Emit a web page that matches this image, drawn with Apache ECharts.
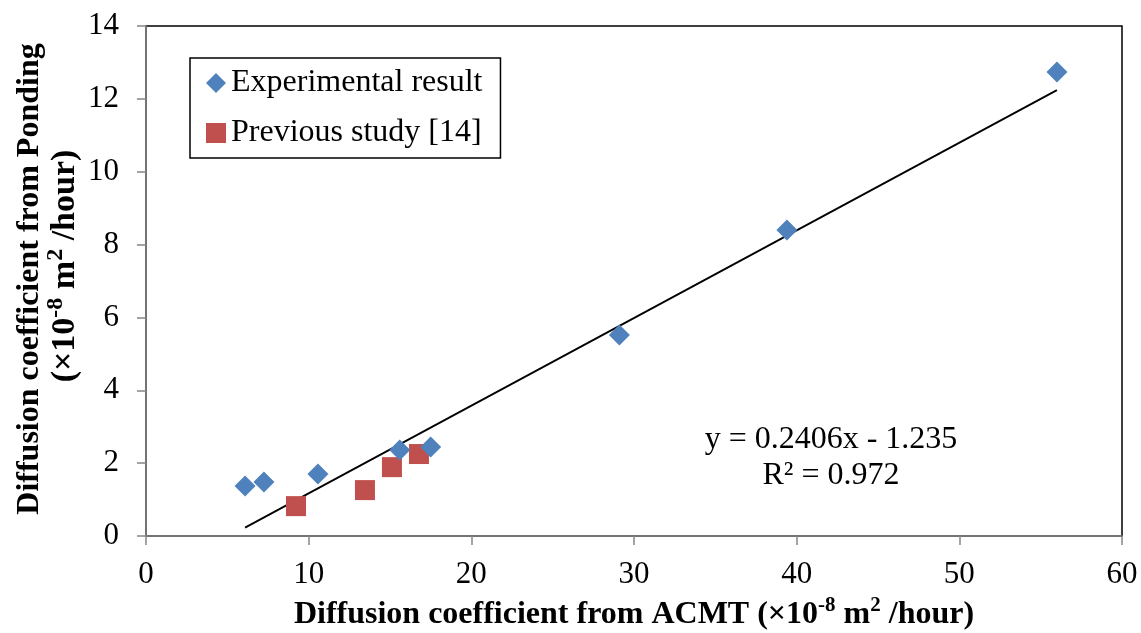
<!DOCTYPE html>
<html>
<head>
<meta charset="utf-8">
<script src="https://cdn.jsdelivr.net/npm/echarts@6/dist/echarts.min.js"></script>
<style>
  html, body { margin: 0; padding: 0; background: #fff; }
  #chart { width: 1141px; height: 633px; }
</style>
</head>
<body>
<div id="chart"></div>
<script>
// Diffusion coefficients, ACMT (x) vs. Ponding (y), units ×10^-8 m²/hour
const experimentalX = [6.09, 7.25, 10.57, 15.6, 17.5, 29.1, 39.4, 56.0];
const experimentalY = [1.37, 1.48, 1.70, 2.36, 2.44, 5.52, 8.40, 12.74];
const previousX = [9.22, 13.46, 15.12, 16.78];
const previousY = [0.82, 1.26, 1.89, 2.25];

// Linear fit of the experimental results
const fitSlope = 0.2406;
const fitIntercept = -1.235;
const fitR2 = 0.972;

const xTicks = { min: 0, max: 60, interval: 10 };
const yTicks = { min: 0, max: 14, interval: 2 };

const FONT = '"Liberation Serif", "Times New Roman", serif';

const expData = experimentalX.map((x, i) => [x, experimentalY[i]]);
const prevData = previousX.map((x, i) => [x, previousY[i]]);
const fitX0 = Math.min(...experimentalX);
const fitX1 = Math.max(...experimentalX);
const fitData = [fitX0, fitX1].map(x => [x, fitSlope * x + fitIntercept]);

// Bold title text with superscripts
const titleRich = {
  b: { fontFamily: FONT, fontSize: 32, fontWeight: 'bold', color: '#000', fill: '#000', verticalAlign: 'bottom', lineHeight: 36 },
  bs: { fontFamily: FONT, fontSize: 21, fontWeight: 'bold', color: '#000', fill: '#000', verticalAlign: 'top', lineHeight: 36, padding: [0, 0, 14, 0] }
};
// Second line of the vertical title is set slightly larger
const titleRich2 = {
  b: { fontFamily: FONT, fontSize: 34, fontWeight: 'bold', fill: '#000', verticalAlign: 'bottom', lineHeight: 38 },
  bs: { fontFamily: FONT, fontSize: 24, fontWeight: 'bold', fill: '#000', verticalAlign: 'top', lineHeight: 38, padding: [0, 0, 14, 0] }
};

const chart = echarts.init(document.getElementById('chart'), null, { renderer: 'canvas' });
chart.setOption({
  animation: false,
  backgroundColor: '#fff',
  grid: {
    left: 146, top: 26, right: 19, bottom: 97,
    outerBoundsMode: 'none',
    containLabel: false,
    show: true, borderColor: '#000', borderWidth: 1.5, backgroundColor: 'transparent'
  },
  legend: {
    orient: 'vertical',
    left: 190, top: 58,
    padding: [9, 18, 9, 16],
    itemGap: 18,
    itemWidth: 20, itemHeight: 20,
    borderColor: '#000', borderWidth: 1.5,
    backgroundColor: '#fff',
    textStyle: { fontFamily: FONT, fontSize: 32, color: '#000', lineHeight: 32 },
    data: [
      { name: 'Experimental result', icon: 'diamond' },
      { name: 'Previous study [14]', icon: 'rect' }
    ]
  },
  xAxis: {
    type: 'value',
    min: xTicks.min, max: xTicks.max, interval: xTicks.interval,
    axisLine: { show: true, lineStyle: { color: '#868686', width: 1.5 } },
    axisTick: { show: true, inside: false, length: 9, lineStyle: { color: '#868686', width: 1.5 } },
    splitLine: { show: false },
    axisLabel: { fontFamily: FONT, fontSize: 31, color: '#000', margin: 23 },
    name: '{b|Diffusion coefficient from ACMT (×10}{bs|-8}{b| m}{bs|2}{b| /hour)}',
    nameLocation: 'middle',
    nameGap: 76,
    nameTextStyle: { verticalAlign: 'middle', rich: titleRich }
  },
  yAxis: {
    type: 'value',
    min: yTicks.min, max: yTicks.max, interval: yTicks.interval,
    axisLine: { show: true, lineStyle: { color: '#868686', width: 1.5 } },
    axisTick: { show: true, inside: false, length: 9, lineStyle: { color: '#868686', width: 1.5 } },
    splitLine: { show: false },
    axisLabel: { fontFamily: FONT, fontSize: 31, color: '#000', margin: 27 }
  },
  graphic: [
    {
      type: 'text', x: 28, y: 279, rotation: Math.PI / 2,
      style: {
        text: '{b|Diffusion coefficient from Ponding}',
        align: 'center', verticalAlign: 'middle', rich: titleRich
      }
    },
    {
      type: 'text', x: 63, y: 266, rotation: Math.PI / 2,
      style: {
        text: '{b|(×10}{bs|-8}{b| m}{bs|2}{b| /hour)}',
        align: 'center', verticalAlign: 'middle', rich: titleRich2
      }
    },
    {
      type: 'text', x: 831, y: 440,
      style: {
        text: 'y = ' + fitSlope.toFixed(4) + 'x - ' + Math.abs(fitIntercept).toFixed(3),
        fontFamily: FONT, fontSize: 32, fill: '#000', align: 'center', verticalAlign: 'middle'
      }
    },
    {
      type: 'text', x: 831, y: 476,
      style: {
        text: 'R² = ' + fitR2.toFixed(3),
        fontFamily: FONT, fontSize: 32, fill: '#000', align: 'center', verticalAlign: 'middle'
      }
    }
  ],
  series: [
    {
      name: 'Linear fit', type: 'line', data: fitData,
      symbol: 'none', silent: true,
      lineStyle: { color: '#000', width: 1.8 }, z: 1
    },
    {
      name: 'Experimental result', type: 'scatter', data: expData,
      symbol: 'diamond', symbolSize: [21, 21],
      itemStyle: { color: '#4F81BD', opacity: 1 }, z: 3
    },
    {
      name: 'Previous study [14]', type: 'scatter', data: prevData,
      symbol: 'rect', symbolSize: [20, 20],
      itemStyle: { color: '#C0504D', opacity: 1 }, z: 2
    }
  ]
});
</script>
</body>
</html>
